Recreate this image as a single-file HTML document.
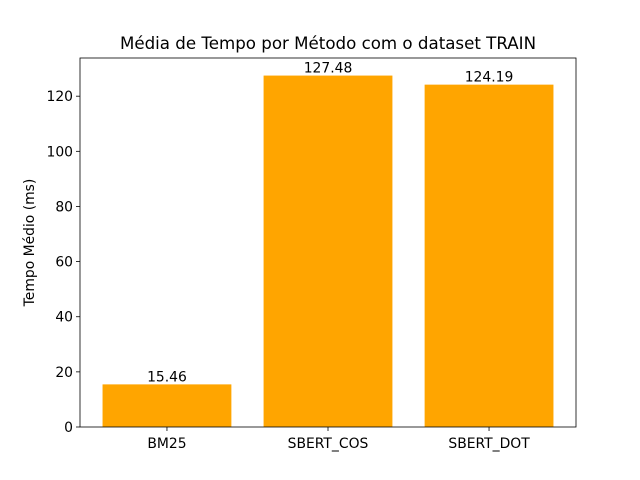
<!DOCTYPE html>
<html><head><meta charset="utf-8"><style>body{margin:0;background:#fff}svg{display:block;font-family:"DejaVu Sans","Liberation Sans",sans-serif}</style></head>
<body>
<svg id="chart" width="640" height="480"></svg>
<script>
const categories = ["BM25", "SBERT_COS", "SBERT_DOT"];
const values = [15.46, 127.48, 124.19];
const yTicks = [0, 20, 40, 60, 80, 100, 120];
const NS = "http://www.w3.org/2000/svg";
const svg = document.getElementById("chart");
const L = 80, R = 576, T = 58, B = 427;
const yMax = Math.max(...values) * 1.05;
const xMin = -0.54, xMax = categories.length - 1 + 0.54;
const xs = v => L + (v - xMin) / (xMax - xMin) * (R - L);
const ys = v => B - v / yMax * (B - T);
function el(tag, attrs, text) {
  const e = document.createElementNS(NS, tag);
  for (const k in attrs) e.setAttribute(k, attrs[k]);
  if (text !== undefined) e.textContent = text;
  svg.appendChild(e);
  return e;
}
values.forEach((v, i) => {
  const r = el("rect", {x: xs(i - 0.4), y: ys(v), width: xs(i + 0.4) - xs(i - 0.4), height: B - ys(v), fill: "#ffa500"});
  
  
  const t = el("text", {x: xs(i), y: ys(v) - 3, "text-anchor": "middle", "font-size": 13.9}, v.toFixed(2));
  
  
  el("line", {x1: xs(i), x2: xs(i), y1: B, y2: B + 4, stroke: "#000", "stroke-width": 0.8});
  const xl = el("text", {x: xs(i), y: B + 21, "text-anchor": "middle", "font-size": 13.9}, categories[i]);
  
  
});
yTicks.forEach(t => {
  el("line", {x1: L - 4, x2: L, y1: ys(t), y2: ys(t), stroke: "#000", "stroke-width": 0.8});
  const yl = el("text", {x: L - 7, y: ys(t) + 5, "text-anchor": "end", "font-size": 13.9}, t);
  
  
});
const frame = el("rect", {x: L, y: T, width: R - L, height: B - T, fill: "none", stroke: "#000", "stroke-width": 0.8});


const title = el("text", {x: (L + R) / 2, y: T - 9, "text-anchor": "middle", "font-size": 16.67}, "Média de Tempo por Método com o dataset TRAIN");


const yt = el("text", {x: 0, y: 0, "text-anchor": "middle", "font-size": 13.9, transform: "translate(34," + ((T + B) / 2) + ") rotate(-90)"}, "Tempo Médio (ms)");


</script>
</body></html>
